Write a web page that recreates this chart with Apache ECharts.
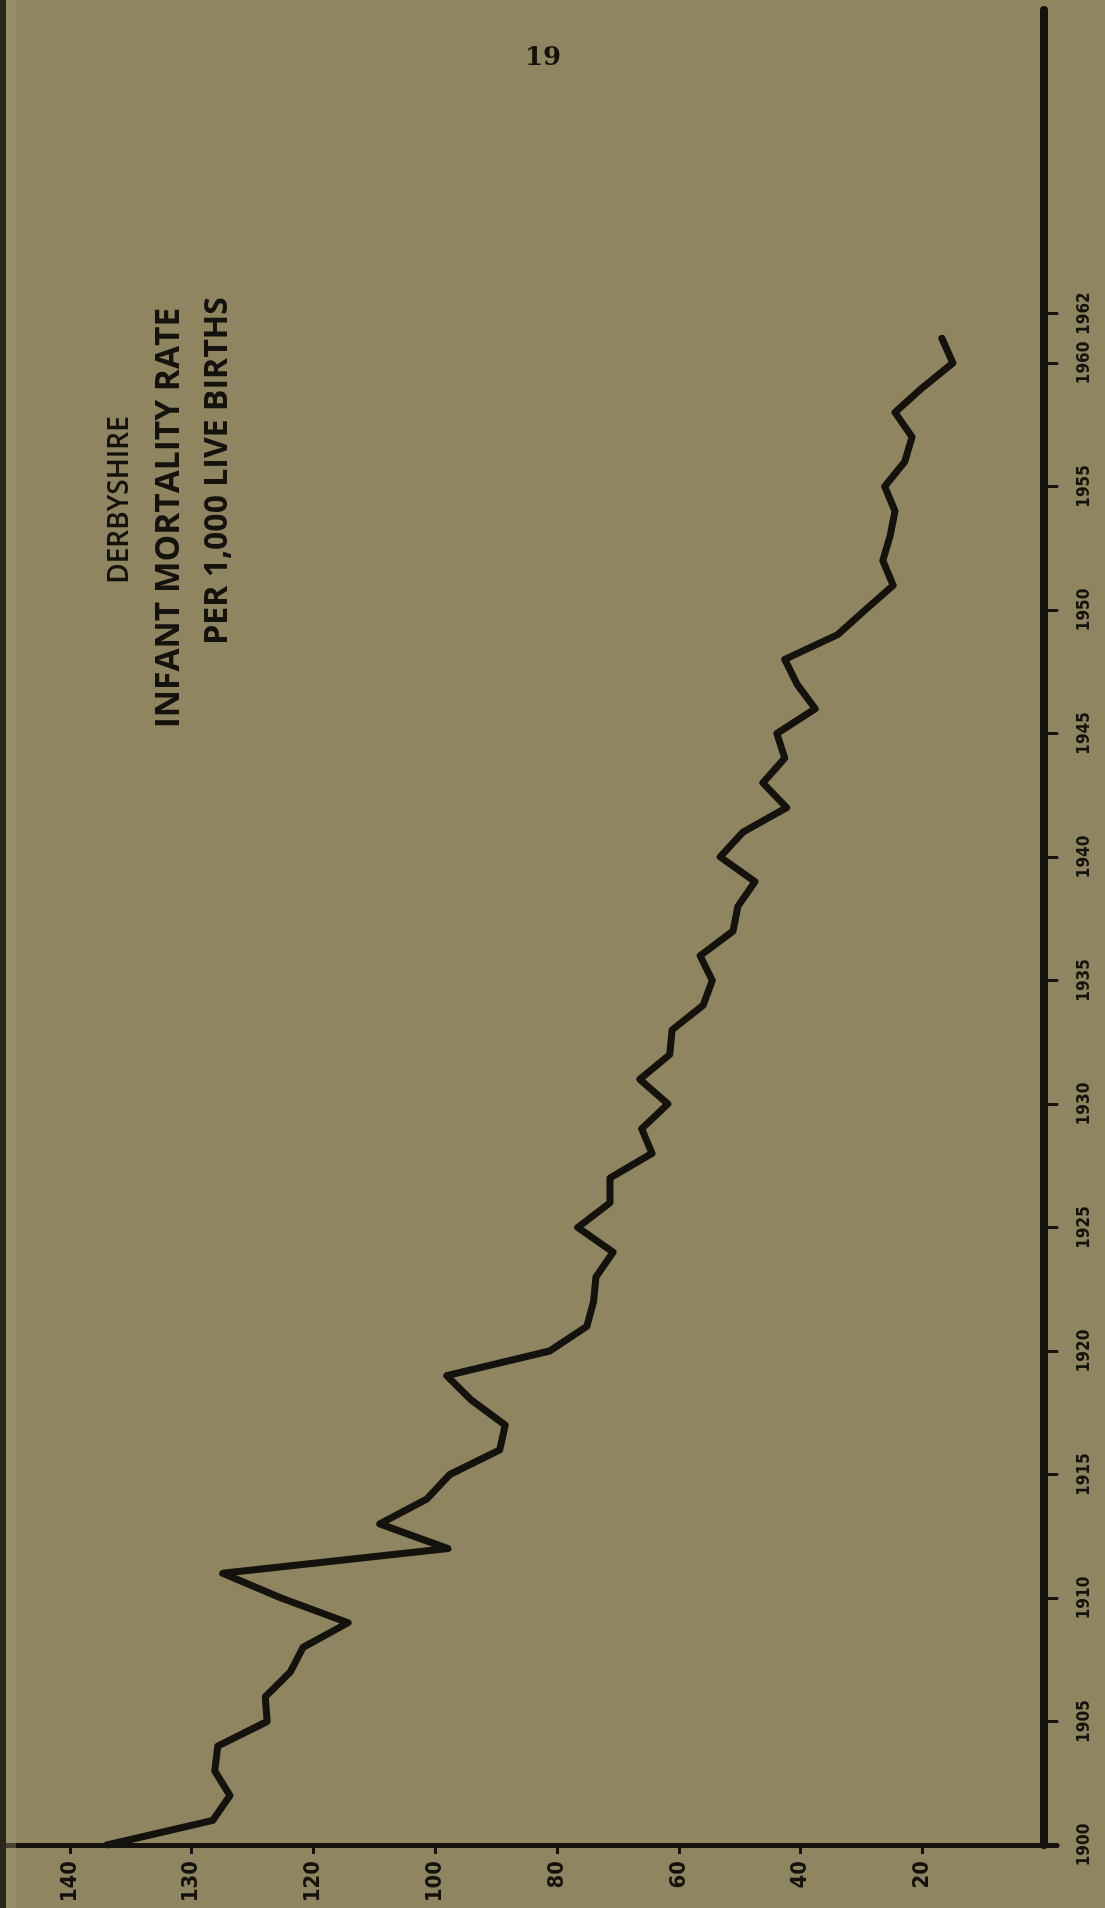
<!DOCTYPE html>
<html>
<head>
<meta charset="utf-8">
<title>Derbyshire Infant Mortality Rate</title>
<script src="https://cdn.jsdelivr.net/npm/echarts/dist/echarts.min.js"></script>
<style>
  html, body { margin: 0; padding: 0; background: #8f8561; }
  #chart { width: 1105px; height: 1908px; }
</style>
</head>
<body>
<div id="chart"></div>
<script>
// ---- data ----
const years = [1900,1901,1902,1903,1904,1905,1906,1907,1908,1909,
               1910,1911,1912,1913,1914,1915,1916,1917,1918,1919,
               1920,1921,1922,1923,1924,1925,1926,1927,1928,1929,
               1930,1931,1932,1933,1934,1935,1936,1937,1938,1939,
               1940,1941,1942,1943,1944,1945,1946,1947,1948,1949,
               1950,1951,1952,1953,1954,1955,1956,1957,1958,1959,
               1960,1961];
const rates = [153.9,136.5,133.7,136.2,135.7,127.6,127.9,123.8,121.7,114.3,
               125.3,134.9,97.9,109.1,101.4,97.6,89.4,88.5,94.0,98.1,
               81.2,75.1,74.0,73.6,70.8,76.6,71.3,71.3,64.4,66.1,
               61.8,66.4,61.5,61.1,56.0,54.5,56.5,51.1,50.3,47.5,
               53.2,49.5,42.3,46.2,42.6,43.9,37.6,40.6,42.6,33.9,
               29.4,24.8,26.5,25.3,24.5,26.2,22.9,21.7,24.5,20.0,
               15.0,16.8];
const rateTicks = [160,140,120,100,80,60,40,20];
const rateTickLabels = ['140','130','120','100','80','60','40','20'];
const yearTicks = [1900,1905,1910,1915,1920,1925,1930,1935,1940,1945,1950,1955,1960,1962];
const titleLines = ['DERBYSHIRE','INFANT MORTALITY RATE','PER 1,000 LIVE BIRTHS'];
const pageNumber = '19';

const ink = '#14120c';
const chart = echarts.init(document.getElementById('chart'), null, {renderer: 'canvas'});

const option = {
  backgroundColor: '#8f8561',
  animation: false,
  grid: { left: 0, right: 48, top: 10, bottom: 63, containLabel: false },
  xAxis: {
    type: 'value',
    inverse: true,
    min: -2.1,
    max: 171.46,
    position: 'bottom',
    splitLine: { show: false },
    axisLine: { show: true, lineStyle: { color: ink, width: 5 } },
    axisTick: { show: true, customValues: rateTicks, length: 9, lineStyle: { color: ink, width: 3 } },
    axisLabel: {
      show: true,
      customValues: rateTicks,
      hideOverlap: false,
      rotate: 90,
      margin: 16,
      color: ink,
      fontSize: 22,
      fontWeight: 'bold',
      fontFamily: "'DejaVu Sans Condensed', 'DejaVu Sans', sans-serif",
      formatter: function (v) {
        const i = rateTicks.indexOf(v);
        return i >= 0 ? rateTickLabels[i] : '';
      }
    }
  },
  yAxis: {
    type: 'value',
    position: 'right',
    min: 1900,
    max: 1974.29,
    splitLine: { show: false },
    axisLine: { show: true, lineStyle: { color: ink, width: 8 } },
    axisTick: { show: true, customValues: yearTicks, length: 14, lineStyle: { color: ink, width: 3 } },
    axisLabel: {
      show: true,
      customValues: yearTicks,
      hideOverlap: false,
      showMinLabel: true,
      showMaxLabel: true,
      rotate: 90,
      margin: 19,
      color: ink,
      fontSize: 17,
      fontWeight: 'bold',
      fontFamily: "'DejaVu Sans Condensed', sans-serif",
      formatter: function (v) { return String(v); }
    }
  },
  series: [{
    type: 'line',
    data: years.map(function (y, i) { return [rates[i], y]; }),
    showSymbol: false,
    symbol: 'none',
    lineStyle: { color: ink, width: 7, join: 'round', cap: 'round' },
    z: 3
  }],
  graphic: [
    { type: 'rect', shape: { x: 0, y: 0, width: 6, height: 1908 }, style: { fill: '#2b271b' }, z: 10 },
    { type: 'rect', shape: { x: 6, y: 0, width: 10, height: 1908 }, style: { fill: 'rgba(170,160,120,0.35)' }, z: 10 },
    { type: 'text', x: 543, y: 58,
      style: { text: pageNumber, fill: ink, font: "bold 26px 'DejaVu Serif', serif", align: 'center', verticalAlign: 'middle' } },
    { type: 'text', x: 120, y: 500, rotation: Math.PI / 2,
      style: { text: titleLines[0], fill: ink, font: "600 28px 'Open Sans', sans-serif", align: 'center', verticalAlign: 'middle' } },
    { type: 'text', x: 169, y: 518, rotation: Math.PI / 2,
      style: { text: titleLines[1], fill: ink, font: "bold 33.5px 'Open Sans', sans-serif", align: 'center', verticalAlign: 'middle' } },
    { type: 'text', x: 218, y: 471, rotation: Math.PI / 2,
      style: { text: titleLines[2], fill: ink, font: "bold 32px 'Open Sans', sans-serif", align: 'center', verticalAlign: 'middle' } }
  ]
};
chart.setOption(option);
</script>
</body>
</html>
